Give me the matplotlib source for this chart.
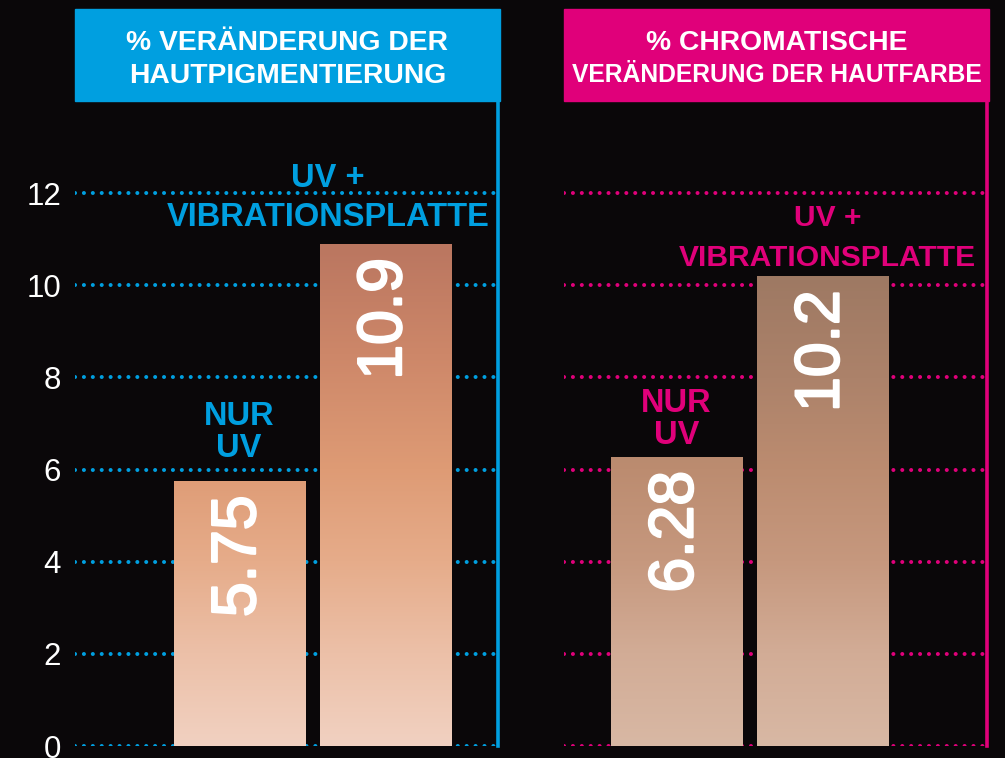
import matplotlib.pyplot as plt
import matplotlib.patheffects as pe
import numpy as np
from matplotlib.colors import LinearSegmentedColormap
from matplotlib.patches import Rectangle

plt.rcParams['font.family'] = ['Liberation Sans', 'DejaVu Sans']

# data
groups = ['NUR\nUV', 'UV +\nVIBRATIONSPLATTE']
pigment = [5.75, 10.9]
chroma = [6.28, 10.2]
titles = ['% VERÄNDERUNG DER\nHAUTPIGMENTIERUNG',
          '% CHROMATISCHE\nVERÄNDERUNG DER HAUTFARBE']
yticks = [0, 2, 4, 6, 8, 10, 12]

bg = '#0a0709'
cyan = '#009fe0'
pink = '#e0007a'

W, H = 1005, 758
fig = plt.figure(figsize=(W / 100, H / 100), dpi=100, facecolor=bg)

def px2pt(p):
    return p * 0.72

def make_cmap(stops):
    return LinearSegmentedColormap.from_list(
        'g', [(v / 12, np.array(c) / 255) for v, c in stops])

cmap_left = make_cmap([(0, (241, 209, 193)), (2, (236, 192, 168)), (4, (230, 172, 138)),
                       (6, (222, 155, 117)), (8.5, (205, 135, 105)), (10.9, (186, 118, 96)),
                       (12, (178, 112, 92))])
cmap_right = make_cmap([(0, (216, 184, 164)), (2, (210, 172, 150)), (4, (198, 152, 126)),
                        (6, (188, 140, 112)), (8, (172, 130, 106)), (10.2, (158, 121, 99)),
                        (12, (150, 116, 96))])

# per panel: color, values, cmap, left px, xlim, label offsets (dx px, line y px above bar, font)
panels = [
    dict(color=cyan, vals=pigment, cmap=cmap_left, left=75, xlim=(-1.130, 1.767),
         labels=[(-1, (68, 36), 23.5), (-58, (69, 30), 23.5)],
         title_sizes=(20.3, 20.3), ticks=True),
    dict(color=pink, vals=chroma, cmap=cmap_right, left=564, xlim=(-0.777, 2.120),
         labels=[(-1, (57, 24.5), 23.5), (4, (61, 21), 21.6)],
         title_sizes=(20.3, 17.7), ticks=False),
]

for p, title in zip(panels, titles):
    ax = fig.add_axes([p['left'] / W, 12 / H, 423 / W, 645 / H])
    ax.set_facecolor('none')
    x = np.arange(len(groups))
    bars = ax.bar(x, p['vals'], width=0.904, color='none', linewidth=0, zorder=2)
    grad = np.linspace(0, 1, 256).reshape(-1, 1)
    for b in bars:
        im = ax.imshow(grad, extent=[b.get_x(), b.get_x() + b.get_width(), 0, 12],
                       origin='lower', aspect='auto', cmap=p['cmap'], zorder=2)
        im.set_clip_path(b)

    # values inside bars
    for xi, v in zip(x, p['vals']):
        ax.annotate(f'{v:g}', (xi, v), xytext=(-1, px2pt(-14)), textcoords='offset points',
                    rotation=90, ha='center', va='top', color='white', fontsize=45, zorder=4,
                    path_effects=[pe.withStroke(linewidth=1.6, foreground='white')])

    # group labels above bars
    for xi, v, g, (dx, ys, fs) in zip(x, p['vals'], groups, p['labels']):
        for line, dy in zip(g.split('\n'), ys):
            ax.annotate(line, (xi, v), xytext=(px2pt(dx), px2pt(dy)), textcoords='offset points',
                        ha='center', va='center_baseline', color=p['color'],
                        fontsize=fs, fontweight='bold', annotation_clip=False)

    ax.set_xlim(*p['xlim'])
    ax.set_ylim(0, 14)
    ax.set_xticks([])
    ax.set_yticks(yticks)
    ax.tick_params(axis='y', length=0, pad=10, labelsize=22.5, labelcolor='white',
                   labelleft=p['ticks'])
    ax.yaxis.grid(True, color=p['color'], linestyle=(0, (0.01, 2.2)), linewidth=2.9,
                  dash_capstyle='round')
    ax.set_axisbelow(True)
    for s in ['left', 'top', 'bottom']:
        ax.spines[s].set_visible(False)
    ax.spines['right'].set_color(p['color'])
    ax.spines['right'].set_linewidth(2.6)

    # title box
    fig.patches.append(Rectangle((p['left'] / W, 1 - 101 / H), 425 / W, 92 / H,
                                 transform=fig.transFigure, color=p['color'], zorder=0))
    cx = (p['left'] + 212.5) / W
    for line, yc, fs in zip(title.split('\n'), (39.5, 73), p['title_sizes']):
        fig.text(cx, 1 - yc / H, line, ha='center', va='center_baseline', color='white',
                 fontsize=fs, fontweight='bold')

fig.savefig('out.png', dpi=100, facecolor=bg)
